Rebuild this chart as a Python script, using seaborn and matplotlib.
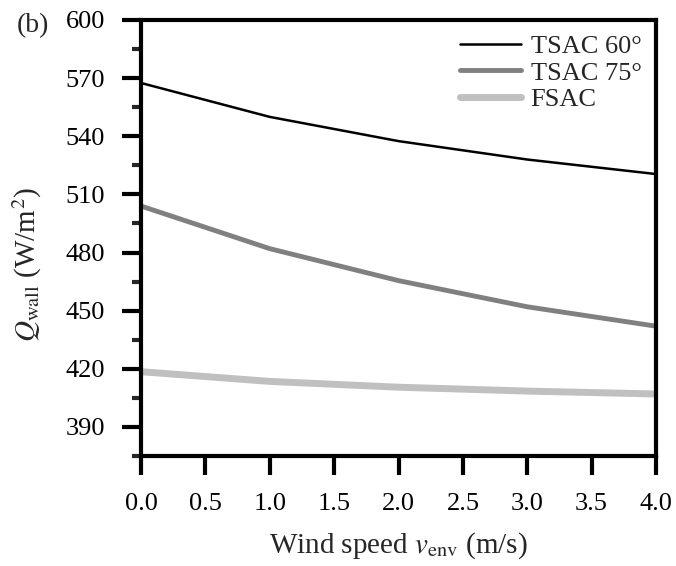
import numpy as np
import pandas as pd
import matplotlib
matplotlib.use("Agg")
import matplotlib.pyplot as plt
import seaborn as sns
from matplotlib.ticker import MultipleLocator

wind_speed = [0.0, 1.0, 2.0, 3.0, 4.0]
tsac60 = [567.5, 550.0, 537.5, 528.0, 520.5]
tsac75 = [504.0, 482.0, 465.5, 452.0, 442.0]
fsac = [418.5, 413.5, 410.5, 408.5, 407.0]
series_names = ["TSAC 60°", "TSAC 75°", "FSAC"]

sns.set_theme(style="ticks")
plt.rcParams['font.family'] = ['Liberation Serif', 'DejaVu Serif']
plt.rcParams['mathtext.fontset'] = 'stix'

df = pd.DataFrame({
    "v": wind_speed * 3,
    "Q": tsac60 + tsac75 + fsac,
    "series": [series_names[0]] * 5 + [series_names[1]] * 5 + [series_names[2]] * 5,
})

fig = plt.figure(figsize=(6.76, 5.66), dpi=100)
ax = fig.add_axes([141/676, 1 - 456/566, (656 - 141)/676, (456 - 20)/566])

palette = {series_names[0]: "#000000", series_names[1]: "#808080", series_names[2]: "#c0c0c0"}
widths = {series_names[0]: 1.8, series_names[1]: 3.5, series_names[2]: 5.0}
for name in series_names:
    sns.lineplot(data=df[df["series"] == name], x="v", y="Q", color=palette[name],
                 lw=widths[name], ax=ax, label=name)

ax.set_xlim(0, 4)
ax.set_ylim(375, 600)
ax.xaxis.set_major_locator(MultipleLocator(0.5))
ax.yaxis.set_minor_locator(MultipleLocator(15))
ax.set_yticks([390, 420, 450, 480, 510, 540, 570, 600])
ax.xaxis.set_major_formatter(matplotlib.ticker.FormatStrFormatter("%.1f"))

for s in ax.spines.values():
    s.set_linewidth(3.0)
    s.set_color("black")
ax.tick_params(axis="both", which="major", direction="out", length=14, width=3.0,
               labelsize=19, colors="black", pad=12)
ax.tick_params(axis="x", which="major", pad=13)
ax.tick_params(axis="y", which="minor", direction="out", length=6.5, width=3.0)

ax.set_xlabel(r"Wind speed $v_{\mathrm{env}}$ (m/s)", fontsize=21, labelpad=11)
ax.set_ylabel(r"$Q_{\mathrm{wall}}$ (W/m$^2$)", fontsize=21)
ax.yaxis.set_label_coords((44 - 141) / 515, 0.44)

leg = ax.legend(loc="upper right", frameon=False, fontsize=19, handlelength=2.3,
                handletextpad=0.38, labelspacing=0.12, borderaxespad=0.15)

fig.text(0.025, 0.955, "(b)", fontsize=20, va="center", ha="left")

fig.savefig("out.png", dpi=100)
